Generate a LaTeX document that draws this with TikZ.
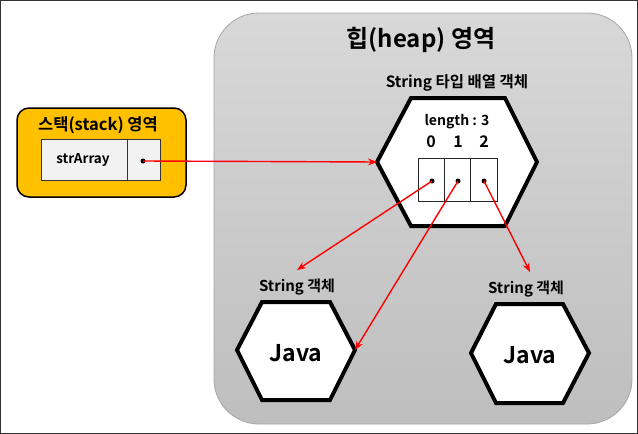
\documentclass[tikz,border=0pt]{standalone}
\usepackage{fontspec}
\setmainfont{Noto Sans CJK KR}[BoldFont={Noto Sans CJK KR Bold}]
\usetikzlibrary{arrows.meta}
\definecolor{stackor}{RGB}{255,192,0}
\definecolor{heaptop}{RGB}{216,216,216}
\definecolor{heapbot}{RGB}{190,190,190}
\definecolor{cellfill}{RGB}{242,242,242}
\tikzset{
  hexa/.style={draw=black, fill=white, line width=4pt, line join=miter},
  ptr/.style={draw=red, line width=1.4pt, -{Stealth[length=9pt,width=7pt]}},
  dotmark/.style={circle, fill=black, inner sep=0pt, minimum size=5pt},
  lbl/.style={inner sep=0pt, font=\bfseries},
}
\begin{document}
\begin{tikzpicture}[x=1pt,y=-1pt]
\useasboundingbox (0,0) rectangle (638,434);
\draw[line width=1pt, draw=black!80] (0.5,0.5) rectangle (637.5,433.5);
% heap area
\shade[top color=heaptop, bottom color=heapbot, rounded corners=45pt] (214,13) rectangle (632,424);
\draw[draw=black!35, line width=0.8pt, rounded corners=45pt] (214,13) rectangle (632,424);
\node[lbl, font=\bfseries\fontsize{24}{28}\selectfont] (heaptitle) at (421,40) {힙(heap) 영역};
% stack area
\draw[fill=stackor, draw=black, line width=1.5pt, rounded corners=12pt] (17,108) rectangle (186,197);
\node[lbl, font=\bfseries\fontsize{16.5}{19}\selectfont] (stacktitle) at (98,125) {스택(stack) 영역};
\draw[fill=cellfill, draw=black!80, line width=1pt] (41,139) rectangle (160,180);
\draw[draw=black!80, line width=1pt] (127,139) -- (127,180);
\node[lbl, font=\bfseries\fontsize{13.5}{15}\selectfont] (strarray) at (83,160) {strArray};
\node[dotmark] (sdot) at (143,161) {};
% array object hexagon
\coordinate (aL) at (377,162); \coordinate (aTL) at (411,98); \coordinate (aTR) at (505,98);
\coordinate (aR) at (537,162); \coordinate (aBR) at (505,226); \coordinate (aBL) at (411,226);
\draw[hexa] (aL) -- (aTL) -- (aTR) -- (aR) -- (aBR) -- (aBL) -- cycle;
\node[lbl, font=\bfseries\fontsize{15.5}{18}\selectfont] (arrtitle) at (457,83) {String 타입 배열 객체};
\node[lbl, font=\bfseries\fontsize{14}{17}\selectfont] (len) at (457,122) {length : 3};
\node[lbl, font=\bfseries\fontsize{16}{19}\selectfont] (i0) at (431,142) {0};
\node[lbl, font=\bfseries\fontsize{16}{19}\selectfont] (i1) at (458,142) {1};
\node[lbl, font=\bfseries\fontsize{16}{19}\selectfont] (i2) at (484,142) {2};
\draw[draw=black!85, line width=0.9pt] (418,158) rectangle (497,201);
\draw[draw=black!85, line width=0.9pt] (444.3,158) -- (444.3,201) (470.6,158) -- (470.6,201);
\node[dotmark] (d0) at (432,181) {};
\node[dotmark] (d1) at (458,181) {};
\node[dotmark] (d2) at (484,181) {};
% left string object
\coordinate (lL) at (237,350); \coordinate (lTL) at (262,302); \coordinate (lTR) at (330,302);
\coordinate (lR) at (355,350); \coordinate (lBR) at (330,400); \coordinate (lBL) at (262,400);
\draw[hexa] (lL) -- (lTL) -- (lTR) -- (lR) -- (lBR) -- (lBL) -- cycle;
\node[lbl, font=\bfseries\fontsize{23}{26}\selectfont] (java1) at (296,353) {Java};
\node[lbl, font=\bfseries\fontsize{15}{17}\selectfont] (s1title) at (297,287) {String 객체};
\coordinate (t0) at (297,270);
% right string object
\coordinate (rL) at (471,353); \coordinate (rTL) at (496,304); \coordinate (rTR) at (563,304);
\coordinate (rR) at (589,353); \coordinate (rBR) at (563,403); \coordinate (rBL) at (496,403);
\draw[hexa] (rL) -- (rTL) -- (rTR) -- (rR) -- (rBR) -- (rBL) -- cycle;
\node[lbl, font=\bfseries\fontsize{23}{26}\selectfont] (java2) at (530,355) {Java};
\node[lbl, font=\bfseries\fontsize{15}{17}\selectfont] (s2title) at (526,289) {String 객체};
\coordinate (t2) at (530,272);
% pointers
\draw[ptr] (sdot.center) -- (aL);
\draw[ptr] (d0.center) -- (t0);
\draw[ptr] (d1.center) -- (lR);
\draw[ptr] (d2.center) -- (t2);
\end{tikzpicture}
\end{document}
